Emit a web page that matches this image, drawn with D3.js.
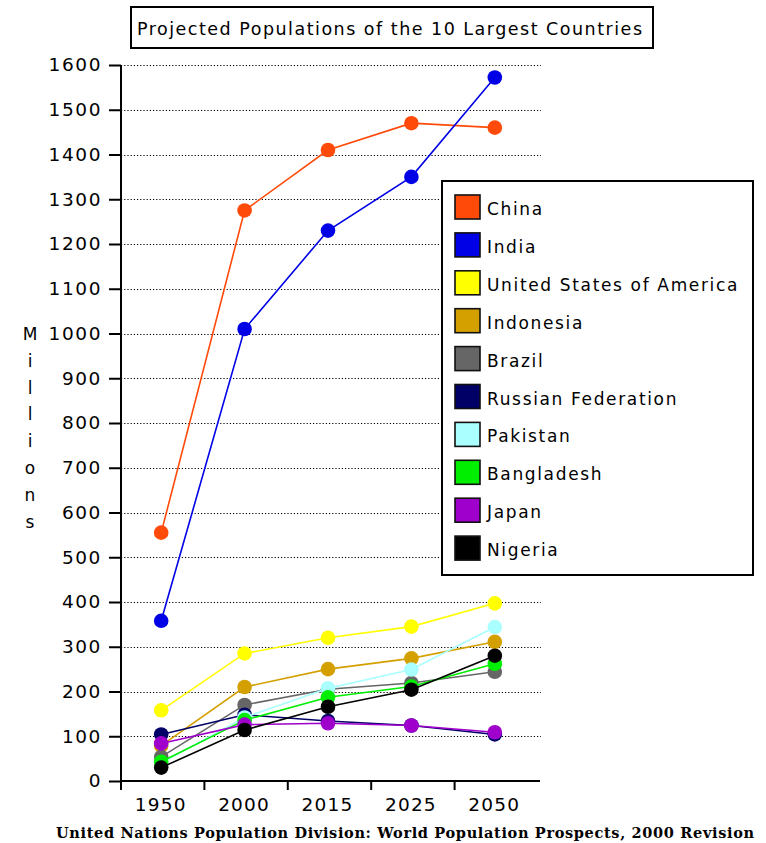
<!DOCTYPE html>
<html>
<head>
<meta charset="utf-8">
<script src="https://cdn.jsdelivr.net/npm/d3@7"></script>
<style>
  html, body { margin: 0; padding: 0; background: #fff; }
  svg { display: block; }
  text { font-family: "DejaVu Sans", Verdana, sans-serif; fill: #000; }
</style>
</head>
<body>
<svg id="chart" width="766" height="843"></svg>
<script>
// Projected populations (millions), UN World Population Prospects 2000 Revision
const years = ["1950", "2000", "2015", "2025", "2050"];
const countries = ["China", "India", "United States of America", "Indonesia", "Brazil",
                   "Russian Federation", "Pakistan", "Bangladesh", "Japan", "Nigeria"];
const colors = ["#ff4a0a", "#0000e6", "#ffff00", "#d4a000", "#666666",
                "#000066", "#aaffff", "#00ee00", "#a000cc", "#000000"];

const china      = [555, 1275, 1410, 1470, 1460];
const india      = [358, 1010, 1230, 1350, 1572];
const usa        = [158, 285, 320, 345, 397];
const indonesia  = [79, 210, 250, 274, 311];
const brazil     = [54, 170, 205, 219, 244];
const russia     = [104, 148, 134, 124, 104];
const pakistan   = [40, 142, 207, 249, 344];
const bangladesh = [43, 136, 187, 211, 262];
const japan      = [84, 126, 129, 124, 109];
const nigeria    = [30, 114, 166, 204, 280];

const series = [china, india, usa, indonesia, brazil, russia, pakistan, bangladesh, japan, nigeria];
const yTicks = d3.range(0, 1601, 100);

const svg = d3.select("#chart");

const plot = { left: 121, right: 538, top: 65, bottom: 781 };

const x = d3.scaleBand().domain(years).range([plot.left, plot.right]);
const y = d3.scaleLinear().domain([0, 1600]).range([plot.bottom, plot.top]);

// Title box
const title = svg.append("g");
title.append("rect")
  .attr("x", 131).attr("y", 7).attr("width", 522).attr("height", 41)
  .attr("fill", "#fff").attr("stroke", "#000").attr("stroke-width", 2);
title.append("text")
  .attr("x", 137).attr("y", 35)
  .attr("font-size", 17.5)
  .attr("textLength", 505).attr("lengthAdjust", "spacing")
  .text("Projected Populations of the 10 Largest Countries");

// Dotted gridlines
svg.append("g")
  .selectAll("line")
  .data(yTicks.filter(d => d > 0))
  .join("line")
  .attr("x1", plot.left).attr("x2", plot.right + 3)
  .attr("y1", d => Math.round(y(d)) + 0.5).attr("y2", d => Math.round(y(d)) + 0.5)
  .attr("stroke", "#000").attr("stroke-width", 1.2)
  .attr("stroke-dasharray", "1.2,2");

// Y axis
const yAxis = svg.append("g")
  .attr("transform", `translate(${plot.left},0)`)
  .call(d3.axisLeft(y).tickValues(yTicks).tickSize(12).tickPadding(7).tickFormat(d3.format("d")));
yAxis.select(".domain").attr("stroke-width", 2).attr("d", `M0,${plot.top}V${plot.bottom + 9}`);
yAxis.selectAll(".tick line").attr("stroke-width", 2);
yAxis.selectAll(".tick text")
  .attr("font-size", 18.5).attr("letter-spacing", 1.6)
  .style("font-family", "'DejaVu Sans', Verdana, sans-serif").attr("fill", "#111");

// X axis: ticks on band boundaries, labels at band centres
const xAxis = svg.append("g").attr("transform", `translate(0,${plot.bottom})`);
xAxis.append("line")
  .attr("x1", plot.left).attr("x2", plot.right + 2)
  .attr("y1", 0).attr("y2", 0)
  .attr("stroke", "#000").attr("stroke-width", 2);
xAxis.selectAll("line.tick")
  .data(years.slice(1))
  .join("line")
  .attr("class", "tick")
  .attr("x1", d => x(d)).attr("x2", d => x(d))
  .attr("y1", 0).attr("y2", 9)
  .attr("stroke", "#000").attr("stroke-width", 2);
xAxis.selectAll("text")
  .data(years)
  .join("text")
  .attr("x", d => x(d) + x.bandwidth() / 2 - 2)
  .attr("y", 30)
  .attr("text-anchor", "middle")
  .attr("font-size", 18.5).attr("letter-spacing", 1.2)
  .attr("fill", "#111")
  .text(d => d);

// Vertical axis title
svg.append("g")
  .selectAll("text")
  .data("Millions".split(""))
  .join("text")
  .attr("x", 30)
  .attr("y", (d, i) => 340 + i * 26.8)
  .attr("text-anchor", "middle")
  .attr("font-size", 17)
  .attr("fill", "#222")
  .text(d => d);

// Series lines and markers
const line = d3.line()
  .x((d, i) => x(years[i]) + x.bandwidth() / 2 - 1.5)
  .y(d => y(d));

const marks = svg.append("g");
series.forEach((vals, k) => {
  const g = marks.append("g");
  g.append("path")
    .datum(vals)
    .attr("d", line)
    .attr("fill", "none")
    .attr("stroke", colors[k])
    .attr("stroke-width", 1.6);
  g.selectAll("circle")
    .data(vals)
    .join("circle")
    .attr("cx", (d, i) => x(years[i]) + x.bandwidth() / 2 - 1.5)
    .attr("cy", d => y(d))
    .attr("r", 7.3)
    .attr("fill", colors[k]);
});

// Legend
const legend = svg.append("g");
legend.append("rect")
  .attr("x", 442).attr("y", 181).attr("width", 311).attr("height", 394)
  .attr("fill", "#fff").attr("stroke", "#000").attr("stroke-width", 2);
const rows = legend.selectAll("g.row")
  .data(countries)
  .join("g")
  .attr("class", "row")
  .attr("transform", (d, i) => `translate(0,${195 + i * 37.9})`);
rows.append("rect")
  .attr("x", 455).attr("y", 0).attr("width", 25).attr("height", 24)
  .attr("fill", (d, i) => colors[i])
  .attr("stroke", "#111").attr("stroke-width", 1.6);
rows.append("text")
  .attr("x", 487).attr("y", 20)
  .attr("font-size", 17).attr("letter-spacing", 1.65)
  .text(d => d);

// Source note
svg.append("text")
  .attr("x", 56).attr("y", 838)
  .attr("font-size", 14.5).attr("font-weight", "bold")
  .style("font-family", "'DejaVu Serif', 'Liberation Serif', serif")
  .attr("textLength", 698).attr("lengthAdjust", "spacing")
  .text("United Nations Population Division: World Population Prospects, 2000 Revision");
</script>
</body>
</html>
